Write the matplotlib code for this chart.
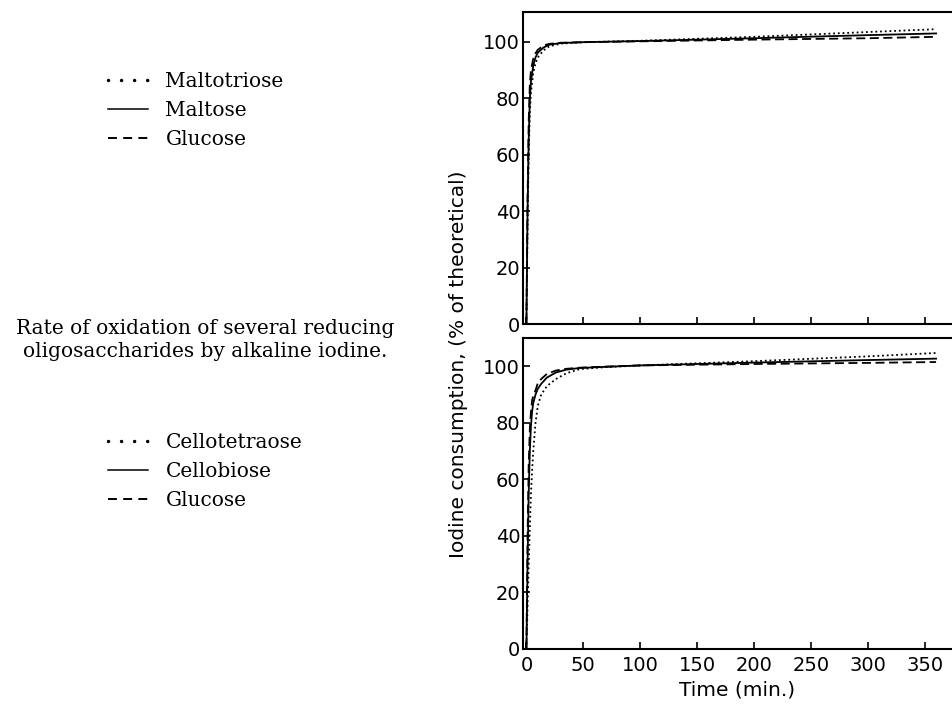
import matplotlib
matplotlib.use("Agg")
import matplotlib.pyplot as plt
from matplotlib.lines import Line2D

# ---------------- data ----------------
t_top = [0, 1, 2, 3, 4, 6, 8, 10, 15, 20, 30, 50, 100, 200, 300, 360]
glucose_top     = [0, 45, 72, 85, 90, 94, 96, 97.2, 98.7, 99.3, 99.7, 99.9, 100.2, 100.8, 101.3, 101.8]
maltose_top     = [0, 40, 65, 80, 86, 91.5, 94.5, 96.2, 98.0, 99.0, 99.6, 99.9, 100.3, 101.3, 102.4, 103.0]
maltotriose_top = [0, 35, 60, 75, 82, 89, 92.5, 94.5, 97.0, 98.4, 99.4, 99.9, 100.4, 101.8, 103.5, 104.5]

t_bot = [0, 1, 2, 3, 4, 5, 6, 8, 10, 13, 18, 26, 35, 47, 70, 100, 200, 300, 360]
glucose_bot       = [0, 40, 65, 78, 84, 88, 89.5, 91.5, 94, 95.5, 97.3, 98.5, 99.1, 99.5, 99.9, 100.3, 100.8, 101.2, 101.5]
cellobiose_bot    = [0, 30, 55, 70, 79, 84, 87, 90, 92, 93.8, 96, 97.8, 98.8, 99.4, 99.8, 100.3, 101.3, 102.2, 102.7]
cellotetraose_bot = [0, 15, 30, 43, 55, 63, 70, 80, 86, 90, 93, 95.5, 97.5, 99.0, 99.7, 100.3, 101.8, 103.5, 104.7]

top_labels = ["Maltotriose", "Maltose", "Glucose"]
bot_labels = ["Cellotetraose", "Cellobiose", "Glucose"]
yticks = [0, 20, 40, 60, 80, 100]
xticks = [0, 50, 100, 150, 200, 250, 300, 350]

caption = "Rate of oxidation of several reducing\noligosaccharides by alkaline iodine."
ylabel = "Iodine consumption, (% of theoretical)"
xlabel = "Time (min.)"

# ---------------- figure ----------------
W, H = 952, 706
fig = plt.figure(figsize=(W / 100, H / 100), dpi=100)

def fx(px):
    return px / W

def fy(py):
    return 1 - py / H

ax_top = fig.add_axes([fx(523), fy(324), fx(952) - fx(523), fy(12) - fy(324)])
ax_bot = fig.add_axes([fx(523), fy(649), fx(952) - fx(523), fy(338) - fy(649)])

lw = 1.3
dash_style = (0, (5, 2.5))
dot_style = (0, (1, 1.6))

def style_axes(ax, ytop, show_xlabels):
    ax.set_xlim(-3, 374)
    ax.set_ylim(0, ytop)
    ax.set_yticks(yticks)
    ax.set_xticks(xticks)
    ax.tick_params(direction="in", length=5, width=1.2, labelsize=14)
    ax.tick_params(axis="y", pad=2)
    ax.tick_params(axis="x", pad=5)
    for s in ["left", "bottom", "top"]:
        ax.spines[s].set_linewidth(1.5)
    ax.spines["right"].set_visible(False)
    if not show_xlabels:
        ax.set_xticklabels([])

# top panel
ax_top.plot(t_top, maltotriose_top, color="black", lw=lw, ls=dot_style)
ax_top.plot(t_top, maltose_top, color="black", lw=lw, ls="-")
ax_top.plot(t_top, glucose_top, color="black", lw=lw, ls=dash_style)
style_axes(ax_top, 110.6, False)

# bottom panel
ax_bot.plot(t_bot, cellotetraose_bot, color="black", lw=lw, ls=dot_style)
ax_bot.plot(t_bot, cellobiose_bot, color="black", lw=lw, ls="-")
ax_bot.plot(t_bot, glucose_bot, color="black", lw=lw, ls=dash_style)
style_axes(ax_bot, 110, True)
ax_bot.set_xlabel(xlabel, fontsize=14.5, family="DejaVu Sans", labelpad=4)

fig.text(fx(459), fy(364), ylabel, rotation=90, ha="center", va="center",
         fontsize=14.5, family="DejaVu Sans")

# legends (proxy handles styled like the printed key)
serif = dict(family="DejaVu Serif", size=14.5)

def make_handles():
    return [Line2D([], [], color="black", lw=2.5, ls=(0, (0.01, 3.75)), dash_capstyle="round"),
            Line2D([], [], color="black", lw=1.1, ls="-"),
            Line2D([], [], color="black", lw=1.4, ls=(0, (4.6, 3.2)))]

common = dict(loc="upper left", frameon=False, prop=serif, handlelength=2.0,
              handletextpad=0.85, labelspacing=0.5, borderpad=0, borderaxespad=0)
leg1 = fig.legend(make_handles(), top_labels, bbox_to_anchor=(fx(108), fy(72)), **common)
leg2 = fig.legend(make_handles(), bot_labels, bbox_to_anchor=(fx(108), fy(433)), **common)

fig.text(fx(205), fy(340), caption, ha="center", va="center",
         fontsize=14.5, family="DejaVu Serif", linespacing=1.23)

fig.savefig("out.png", dpi=100)
